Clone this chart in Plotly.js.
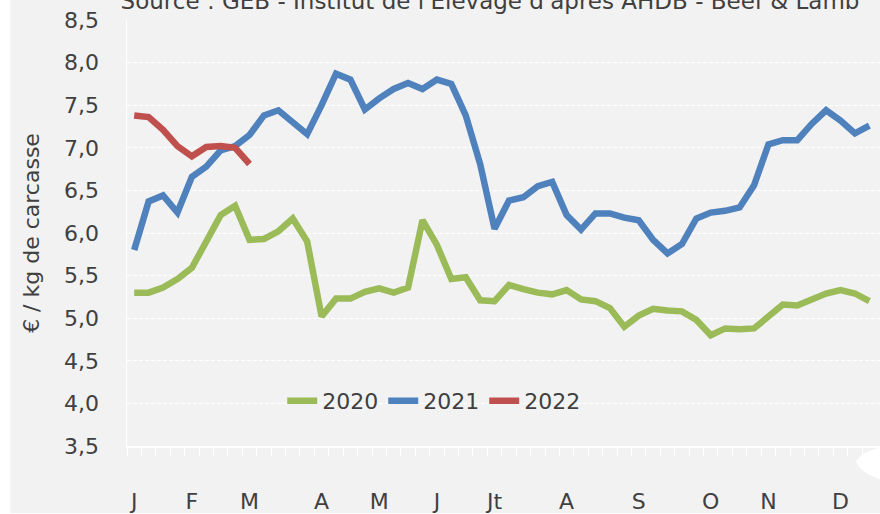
<!DOCTYPE html>
<html>
<head>
<meta charset="utf-8">
<script src="https://cdn.plot.ly/plotly-3.0.1.min.js"></script>
<style>html,body{margin:0;padding:0;background:#ffffff;}#chart{width:880px;height:514px;}</style>
</head>
<body>
<div id="chart"></div>
<script>
const weeks = [1,2,3,4,5,6,7,8,9,10,11,12,13,14,15,16,17,18,19,20,21,22,23,24,25,26,27,28,29,30,31,32,33,34,35,36,37,38,39,40,41,42,43,44,45,46,47,48,49,50,51,52];
const seriesNames = ["2020", "2021", "2022"];
const y2020 = [5.30,5.30,5.36,5.46,5.59,5.91,6.21,6.32,5.92,5.93,
               6.02,6.17,5.90,5.02,5.23,5.23,5.31,5.35,5.30,5.36,
               6.15,5.86,5.46,5.48,5.21,5.20,5.39,5.34,5.30,5.28,
               5.33,5.22,5.20,5.12,4.90,5.03,5.11,5.09,5.08,4.98,
               4.80,4.88,4.87,4.88,5.01,5.16,5.15,5.23,5.29,5.33,
               5.29,5.20];
const y2021 = [5.80,6.37,6.44,6.24,6.66,6.78,6.97,7.02,7.15,7.38,
               7.44,7.30,7.16,7.50,7.87,7.80,7.45,7.58,7.69,7.76,
               7.69,7.80,7.75,7.38,6.81,6.05,6.38,6.42,6.55,6.60,
               6.21,6.04,6.23,6.23,6.18,6.15,5.92,5.76,5.87,6.17,
               6.24,6.26,6.30,6.56,7.04,7.09,7.09,7.28,7.44,7.32,
               7.17,7.26];
const y2022 = [7.38,7.36,7.21,7.02,6.90,7.01,7.02,7.00,6.81];
const monthWeeks = [1,5,9,14,18,22,26,31,36,41,45,50];
const monthLabels = ["J","F","M","A","M","J","Jt","A","S","O","N","D"];
const yTicks = [3.5,4.0,4.5,5.0,5.5,6.0,6.5,7.0,7.5,8.0,8.5];

const colors = ["#9bbb59", "#4f81bd", "#c0504d"];
const allY = [y2020, y2021, y2022];
const FONT = "DejaVu Sans, sans-serif";
const TXT = "#404040";

const traces = allY.map((ys, i) => ({
  type: "scatter",
  mode: "lines",
  name: seriesNames[i],
  x: weeks.slice(0, ys.length),
  y: ys,
  line: {color: colors[i], width: 6.5},
  hoverinfo: "x+y"
}));

// plot area geometry helpers for decorative shapes (paper coords)
const L = 126.7, R = 880, T = 20, B = 446;
const px = v => (v - L) / (R - L);
const py = v => (B - v) / (B - T);

const layout = {
  width: 880, height: 514,
  margin: {l: L, r: 0, t: T, b: 514 - B, pad: 0},
  paper_bgcolor: "#f2f2f2",
  plot_bgcolor: "#f2f2f2",
  separators: ",.",
  font: {family: FONT, color: TXT, size: 22},
  title: {
    text: "Source : GEB - Institut de l'Elevage d'après AHDB - Beef & Lamb",
    font: {family: FONT, size: 23, color: TXT},
    xref: "container", yref: "container",
    x: 490/880, xanchor: "center",
    y: 1 - 1/514, yanchor: "middle"
  },
  showlegend: true,
  legend: {
    orientation: "h",
    x: px(282), xanchor: "left",
    y: py(401), yanchor: "middle",
    bgcolor: "rgba(0,0,0,0)",
    font: {family: FONT, size: 22, color: TXT},
    itemclick: false
  },
  xaxis: {
    range: [0.5, 0.5 + (R - L) / 14.42],
    tickmode: "array",
    tickvals: monthWeeks,
    ticktext: monthLabels,
    ticks: "",
    ticklabelstandoff: 35,
    tickfont: {family: FONT, size: 22, color: TXT},
    showgrid: false,
    zeroline: false,
    showline: true,
    linecolor: "#ffffff",
    linewidth: 1.5,
    minor: {ticks: "outside", tick0: 0.5, dtick: 1, ticklen: 8, tickwidth: 1, tickcolor: "#ffffff", showgrid: false},
    fixedrange: true
  },
  yaxis: {
    range: [3.5, 8.5],
    tickmode: "array",
    tickvals: yTicks,
    tickformat: ".1f",
    ticks: "",
    ticklabelstandoff: 22,
    tickfont: {family: FONT, size: 22, color: TXT},
    showgrid: true,
    gridcolor: "#ffffff",
    gridwidth: 1,
    griddash: "4px,2px",
    zeroline: false,
    showline: true,
    linecolor: "#ffffff",
    linewidth: 1.5,
    title: {text: "€ / kg de carcasse", font: {family: FONT, size: 22, color: TXT}, standoff: 18},
    fixedrange: true
  },
  shapes: [
    {type: "rect", xref: "paper", yref: "paper", layer: "below",
     x0: px(-5), x1: px(10), y0: py(520), y1: py(-5),
     fillcolor: "#ffffff", line: {width: 0}},
    {type: "rect", xref: "paper", yref: "paper", layer: "below",
     x0: px(-5), x1: px(885), y0: py(520), y1: py(513),
     fillcolor: "#ffffff", line: {width: 0}},
    {type: "path", xref: "paper", yref: "paper", layer: "above",
     path: "M " + px(885) + "," + py(446) +
           " L " + px(880) + "," + py(448) +
           " Q " + px(860) + "," + py(452) + " " + px(856) + "," + py(462) +
           " Q " + px(862) + "," + py(474) + " " + px(880) + "," + py(479) +
           " L " + px(885) + "," + py(480) + " Z",
     fillcolor: "#ffffff", line: {width: 0}}
  ]
};

Plotly.newPlot("chart", traces, layout, {displayModeBar: false, staticPlot: true});
</script>
</body>
</html>
